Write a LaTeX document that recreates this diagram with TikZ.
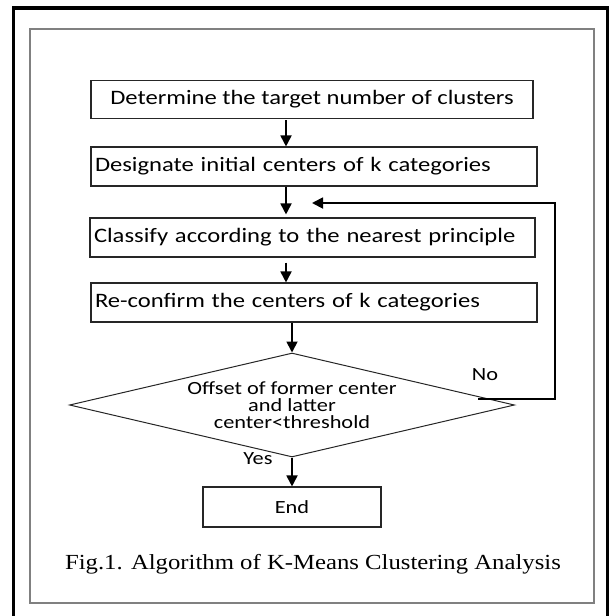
\documentclass[tikz,border=0pt]{standalone}
\usepackage{fontspec}
\setmainfont[FakeStretch=1.15]{Liberation Serif}
\newfontfamily\boxfont[FakeStretch=1.2]{Carlito}
\usetikzlibrary{shapes.geometric,arrows.meta}
\begin{document}
\begin{tikzpicture}[x=1pt,y=-1pt,
  box/.style={draw=black!85, line width=1.1pt, minimum height=38pt, inner xsep=4pt, inner ysep=0pt,
    font=\boxfont\fontsize{20.5}{22}\selectfont},
  dia/.style={draw=black!85, line width=1pt, diamond, shape aspect=4.28, minimum width=445pt,
    minimum height=104pt, inner sep=0pt, align=center, font=\boxfont\fontsize{18.6}{17}\selectfont},
  lbl/.style={font=\boxfont\fontsize{18.6}{17}\selectfont, inner sep=0pt},
  arr/.style={line width=1.8pt, -{Triangle[width=11pt,length=11pt]}}]
\useasboundingbox (0,0) rectangle (610,616);
% frames
\draw[line width=3.5pt] (13.5,622) -- (13.5,8) -- (607.5,8) -- (607.5,622);
\draw[gray, line width=1.5pt] (30,29) rectangle (594,603);
% boxes
\node[box, minimum width=442pt] (b1) at (312,99.5) {Determine the target number of clusters};
\node[box, text width=438pt, align=left, minimum height=39pt] (b2) at (314,166.5) {Designate initial centers of k categories};
\node[box, text width=437pt, align=left, minimum height=39pt] (b3) at (312.5,237.5) {Classify according to the nearest principle};
\node[box, text width=438pt, align=left, minimum height=39pt] (b4) at (314,302.5) {Re-confirm the centers of k categories};
\node[dia] (d) at (292,405) {Offset of former center\\and latter\\center<threshold};
\node[box, minimum width=178pt, minimum height=40pt, font=\boxfont\fontsize{18.6}{17}\selectfont] (e) at (292,507) {End};
\node[lbl] (no) at (485,375) {No};
\node[lbl] (yes) at (258,459) {Yes};
\node[inner sep=0pt, font=\fontsize{21.5}{24}\selectfont] (cap) at (313,564) {Fig.1. Algorithm of K-Means Clustering Analysis};
% connectors
\coordinate (c1) at (286,0);
\draw[arr, shorten <=1pt] (b1.south -| c1) -- (b2.north -| c1);
\draw[arr, shorten >=3pt] (b2.south -| c1) -- (b3.north -| c1);
\draw[arr, shorten <=5pt] (b3.south -| c1) -- (b4.north -| c1);
\draw[arr] (b4.south -| d.north) -- (d.north);
\draw[arr] (d.south) -- (e.north);
\coordinate (fs) at (478,399);
\coordinate (fe) at (312,203);
\coordinate (fr) at (555,0);
\draw[arr] (fs) -- (fs -| fr) -- (fe -| fr) -- (fe);
\end{tikzpicture}
\end{document}
